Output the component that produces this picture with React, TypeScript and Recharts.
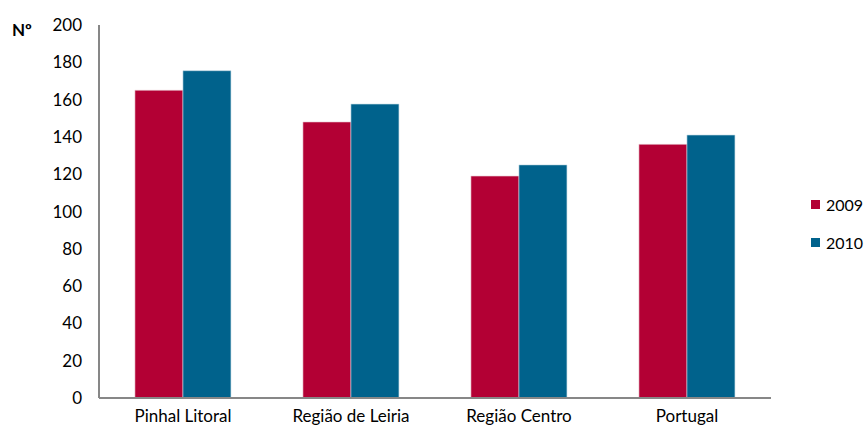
import { BarChart, Bar, XAxis, YAxis } from 'recharts';

const FONT = "Lato, 'Open Sans', 'Liberation Sans', sans-serif";

const categories = ['Pinhal Litoral', 'Região de Leiria', 'Região Centro', 'Portugal'];
const values2009 = [165, 148, 119, 136];
const values2010 = [175.5, 157.6, 125, 141];
const yTicks = [0, 20, 40, 60, 80, 100, 120, 140, 160, 180, 200];

const COLOR_2009 = '#B30034';
const COLOR_2010 = '#00628C';
const AXIS = '#878787';

const data = categories.map((name, i) => ({
  name,
  y2009: values2009[i],
  y2010: values2010[i],
}));

function LegendBox() {
  const items = [
    { label: '2009', color: COLOR_2009 },
    { label: '2010', color: COLOR_2010 },
  ];
  return (
    <div style={{ position: 'absolute', left: 811, top: 194, fontFamily: FONT, fontSize: 16, color: '#000' }}>
      {items.map((it, i) => (
        <div
          key={it.label}
          style={{ display: 'flex', alignItems: 'center', height: 20, marginTop: i === 0 ? 0 : 18 }}
        >
          <span style={{ display: 'inline-block', width: 9, height: 9, background: it.color, marginRight: 6 }} />
          {it.label}
        </div>
      ))}
    </div>
  );
}

export default function App() {
  return (
    <div style={{ position: 'fixed', left: 0, top: 0, width: 864, height: 428, background: '#fff', overflow: 'hidden' }}>
      <div style={{ position: 'absolute', left: 12, top: 19, fontFamily: FONT, fontWeight: 700, fontSize: 17 }}>Nº</div>
      <BarChart
        width={864}
        height={428}
        data={data}
        margin={{ top: 25, right: 93, bottom: 0, left: 0 }}
        barCategoryGap="21.4%"
        barGap={0}
      >
        <XAxis
          dataKey="name"
          height={30}
          axisLine={{ stroke: AXIS, strokeWidth: 2 }}
          tickLine={false}
          tickSize={0}
          tickMargin={12}
          tick={{ fontFamily: FONT, fontSize: 17, fill: '#000' }}
          interval={0}
        />
        <YAxis
          width={99}
          domain={[0, 200]}
          ticks={yTicks}
          axisLine={{ stroke: AXIS, strokeWidth: 2 }}
          tickLine={false}
          tickSize={0}
          tickMargin={17}
          tick={{ fontFamily: FONT, fontSize: 17, fill: '#000' }}
        />
        <Bar dataKey="y2009" name="2009" fill={COLOR_2009} stroke="#e9c9d2" strokeWidth={0.6} isAnimationActive={false} />
        <Bar dataKey="y2010" name="2010" fill={COLOR_2010} stroke="#c3dbe6" strokeWidth={0.6} isAnimationActive={false} />
      </BarChart>
      <LegendBox />
    </div>
  );
}
